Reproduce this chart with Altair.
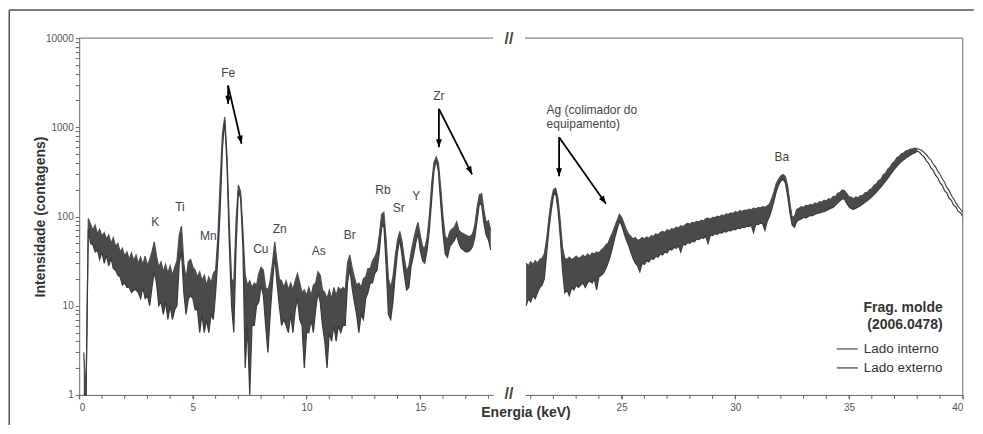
import altair as alt
import numpy as np
import pandas as pd

# ---------------- data ----------------
series_names = ["Lado interno", "Lado externo"]

# left segment: 0.2 ... 18.1 keV, step 0.1 keV
left_interno = [
    3, 1, 95, 82, 70, 80, 64, 72, 60, 66,
    56, 62, 50, 58, 46, 50, 40, 44, 36, 40,
    33, 39, 32, 37, 30, 35, 29, 36, 28, 33,
    40, 52, 36, 27, 31, 24, 29, 23, 28, 22,
    27, 32, 62, 78, 30, 20, 31, 33, 27, 25,
    21, 24, 19, 22, 17, 21, 18, 23, 25, 60,
    250, 850, 1300, 480, 85, 20, 18, 90, 225, 190,
    70, 22, 17, 19, 16, 18, 17, 23, 27, 25,
    16, 15, 19, 30, 52, 31, 20, 19, 16, 19,
    15, 18, 15, 19, 23, 18, 14, 15, 13, 16,
    13, 17, 18, 24, 22, 15, 14, 12, 15, 12,
    16, 13, 16, 15, 16, 15, 30, 37, 27, 21,
    17, 18, 16, 20, 21, 26, 26, 32, 35, 41,
    62, 105, 112, 55, 20, 16, 21, 36, 55, 68,
    52, 34, 24, 28, 40, 54, 70, 86, 62, 46,
    44, 58, 100, 230, 400, 465, 400, 210, 100, 60,
    55, 68, 72, 76, 87, 70, 66, 64, 62, 60,
    60, 64, 80, 125, 175, 180, 118, 85, 90, 70,
]
left_externo = [
    1, 1, 72, 50, 48, 40, 42, 33, 40, 30,
    37, 28, 34, 26, 25, 22, 21, 17, 18, 16,
    16, 14, 15, 15, 14, 12, 16, 12, 13, 10,
    16, 24, 18, 10, 11, 8, 11, 7, 10, 7,
    9, 10, 30, 40, 14, 8, 12, 13, 12, 9,
    9, 5, 8, 5, 7, 5, 8, 7, 14, 35,
    120, 580, 1200, 380, 50, 10, 5, 45, 195, 160,
    45, 2, 6, 1, 6, 6, 10, 11, 17, 13,
    6, 3, 8, 18, 36, 18, 10, 6, 7, 6,
    5, 8, 5, 9, 12, 7, 6, 2, 5, 5,
    7, 5, 9, 14, 11, 6, 4, 2, 5, 4,
    6, 4, 6, 5, 6, 6, 18, 26, 16, 11,
    8, 5, 8, 7, 12, 14, 18, 18, 23, 25,
    40, 75, 80, 28, 8, 7, 11, 22, 40, 55,
    36, 22, 15, 16, 28, 36, 50, 65, 42, 32,
    30, 42, 70, 150, 320, 430, 320, 140, 65, 38,
    35, 46, 50, 54, 62, 50, 44, 42, 40, 40,
    42, 46, 58, 90, 140, 135, 85, 62, 55, 42,
]
# right segment: 20.8 ... 40.0 keV, step 0.1 keV
right_interno = [
    30, 28, 31, 29, 32, 30, 33, 34, 38, 55,
    95, 150, 200, 208, 160, 90, 45, 34, 33, 35,
    33, 34, 36, 34, 35, 37, 35, 38, 36, 39,
    38, 40, 39, 42, 44, 48, 50, 58, 66, 78,
    90, 106, 98, 84, 72, 64, 60, 56, 58, 54,
    55, 58, 56, 59, 57, 61, 60, 64, 62, 66,
    68, 66, 71, 69, 73, 72, 76, 74, 79, 77,
    81, 84, 82, 86, 85, 88, 87, 91, 89, 94,
    96, 93, 98, 97, 101, 99, 104, 102, 107, 106,
    110, 108, 113, 111, 116, 114, 118, 117, 121, 119,
    124, 122, 126, 125, 129, 127, 131, 138, 158, 190,
    235, 262, 285, 295, 280, 220, 140, 98, 100, 120,
    124, 129, 126, 133, 132, 137, 134, 142, 139, 147,
    144, 152, 149, 158, 156, 168, 166, 182, 186, 198,
    194, 180, 166, 164, 158, 166, 162, 172, 172, 184,
    186, 200, 206, 224, 232, 254, 262, 292, 306, 340,
    358, 395, 415, 455, 470, 505, 515, 545, 552, 570,
    575, 584, 575, 566, 548, 522, 492, 458, 428, 388,
    362, 322, 298, 265, 242, 212, 196, 172, 158, 142,
    130, 120, 112,
]
right_externo = [
    10, 12, 11, 13, 12, 14, 16, 17, 20, 38,
    70, 115, 170, 185, 120, 60, 25, 14, 15, 13,
    16, 15, 17, 16, 17, 18, 16, 18, 19, 18,
    20, 15, 21, 22, 23, 26, 30, 36, 45, 58,
    72, 88, 80, 66, 55, 48, 40, 34, 30, 28,
    24, 30, 29, 32, 31, 34, 33, 36, 35, 38,
    37, 40, 39, 43, 42, 45, 44, 47, 40, 49,
    48, 51, 50, 53, 52, 56, 55, 58, 57, 60,
    50, 62, 61, 64, 63, 66, 65, 68, 67, 70,
    69, 72, 71, 74, 73, 76, 75, 78, 77, 80,
    66, 82, 81, 84, 83, 70, 88, 100, 120, 150,
    190, 225, 250, 262, 238, 170, 110, 80, 76, 88,
    92, 94, 98, 96, 100, 103, 102, 106, 108, 110,
    112, 113, 117, 120, 124, 126, 134, 142, 150, 158,
    156, 140, 128, 122, 120, 124, 128, 132, 138, 144,
    150, 158, 166, 176, 188, 200, 214, 230, 248, 268,
    290, 315, 340, 365, 390, 412, 432, 452, 470, 488,
    505, 520, 540, 525, 490, 465, 420, 395, 350, 330,
    290, 272, 238, 224, 195, 183, 160, 152, 133, 128,
    114, 110, 100,
]
left_start = 0.2
right_start = 20.8
step_kev = 0.1
split_from = 38.0   # beyond this energy the two spectra are drawn as separate curves

element_text = ["K", "Ti", "Mn", "Fe", "Cu", "Zn", "As", "Br", "Rb", "Sr", "Y", "Zr"]
element_E = [3.34, 4.43, 5.68, 6.55, 7.99, 8.82, 10.54, 11.90, 13.36, 14.05, 14.82, 15.82]
element_I = [87, 128, 60, 4030, 43, 72, 41, 62, 200, 126, 168, 2268]

ba_text = ["Ba"]
ba_E = [32.04]
ba_I = [463]

ag_text = ["Ag (colimador do", "equipamento)"]
ag_E = [21.70, 21.70]
ag_I = [1570, 1094]

# arrows (start -> tip)
left_arrow_E0 = [6.55, 6.55, 15.82, 15.82]
left_arrow_I0 = [2935, 2935, 1610, 1610]
left_arrow_E1 = [6.55, 7.14, 15.82, 17.28]
left_arrow_I1 = [1832, 654, 599, 297]
right_arrow_E0 = [22.25, 22.25]
right_arrow_I0 = [775, 775]
right_arrow_E1 = [22.25, 24.31]
right_arrow_I1 = [282, 139]

x_left_labels = [0, 5, 10, 15]
x_right_labels = [25, 30, 35, 40]
x_left_minor = list(range(0, 19))
x_right_minor = list(range(21, 41))
y_ticks = [m * 10 ** k for k in range(4) for m in range(1, 10)] + [10000]

# ---------------- tables ----------------
def wide(upper, lower, start):
    e = np.round(start + step_kev * np.arange(len(upper)), 3)
    return pd.DataFrame({"E": e, series_names[0]: upper, series_names[1]: lower})

left_w = wide(left_interno, left_externo, left_start)
right_w = wide(right_interno, right_externo, right_start)

elem_df = pd.DataFrame({"E": element_E, "I": element_I, "t": element_text})
ba_df = pd.DataFrame({"E": ba_E, "I": ba_I, "t": ba_text})
ag_df = pd.DataFrame({"E": ag_E, "I": ag_I, "t": ag_text})

left_head_angle = [0, 347, 0, 333]   # arrowhead rotation (style)
right_head_angle = [0, 325]
larr = pd.DataFrame({"E0": left_arrow_E0, "I0": left_arrow_I0, "E1": left_arrow_E1,
                     "I1": left_arrow_I1, "ang": left_head_angle})
rarr = pd.DataFrame({"E0": right_arrow_E0, "I0": right_arrow_I0, "E1": right_arrow_E1,
                     "I1": right_arrow_I1, "ang": right_head_angle})
lminor = pd.DataFrame({"E": x_left_minor})
rminor = pd.DataFrame({"E": x_right_minor})
one_row = pd.DataFrame({"k": [0]})

# ---------------- styling ----------------
W_L, W_R, H = 414, 438, 357
FONT = "Liberation Sans"
AX = "#666666"
BAND = "#4a4a4a"
HEAD = "M0,0L-0.6,-1.6L0.6,-1.6Z"

y_scale = alt.Scale(type="log", domain=[1, 10000], nice=False)
color = alt.Color(
    "serie:N",
    scale=alt.Scale(domain=series_names, range=["#4d4d4d", "#3a3a3a"]),
    legend=alt.Legend(
        title=["Frag. molde", "(2006.0478)"], orient="none", legendX=757, legendY=263,
        symbolType="stroke", symbolSize=441, symbolStrokeWidth=1.2,
        symbolStrokeColor="#808080",
        labelFontSize=13.5, labelColor="#333", titleFontSize=14, titleColor="#333",
        titleFontWeight="bold", titleAnchor="end", titleAlign="right",
        titleLineHeight=17.5, titlePadding=5, labelOffset=5, rowPadding=1,
    ),
)

def x_axis(vals):
    return alt.Axis(values=vals, title=None, tickSize=4, labelFontSize=10,
                    labelPadding=4, grid=False, labelOverlap=False)

y_axis_left = alt.Axis(
    values=y_ticks, format="d",
    labelExpr="indexof([1,10,100,1000,10000], datum.value) >= 0 ? datum.label : ''",
    title="Intensidade (contagens)", titleX=-39, titleY=H / 2, titleBaseline="middle",
    titleFontSize=14, titleFontWeight="bold", titleColor="#333",
    labelOverlap=False, tickSize=4, labelFontSize=10, labelPadding=2, grid=False,
)


def panel(wdf, dom, axis_x, axis_y, minor_df, band_filter=None):
    xs = alt.Scale(domain=dom, nice=False, zero=False)
    band_src = alt.Chart(wdf)
    if band_filter is not None:
        band_src = band_src.transform_filter(band_filter)
    band = band_src.mark_area(color=BAND, opacity=1, interpolate="linear").encode(
        x=alt.X("E:Q", scale=xs, axis=axis_x),
        y=alt.Y(f"{series_names[1]}:Q", scale=y_scale, axis=axis_y),
        y2=f"{series_names[0]}:Q",
    )
    lines = alt.Chart(wdf).transform_fold(series_names, as_=["serie", "I"]).mark_line(
        strokeWidth=1.2).encode(
        x=alt.X("E:Q", scale=xs, axis=axis_x),
        y=alt.Y("I:Q", scale=y_scale, axis=axis_y),
        color=color,
    )
    minor = alt.Chart(minor_df).mark_rule(color=AX, strokeWidth=1).encode(
        x=alt.X("E:Q", scale=xs, axis=axis_x), y=alt.value(H), y2=alt.value(H + 4))
    return xs, [band, lines, minor]


# ---------------- left panel ----------------
xs_l, layers_l = panel(left_w, [0, 18.2], x_axis(x_left_labels), y_axis_left, lminor)
labels_l = alt.Chart(elem_df).mark_text(fontSize=12, color="#444", font=FONT).encode(
    x=alt.X("E:Q", scale=xs_l), y=alt.Y("I:Q", scale=y_scale), text="t:N")
shafts_l = alt.Chart(larr).mark_rule(color="black", strokeWidth=1.8).encode(
    x=alt.X("E0:Q", scale=xs_l), y=alt.Y("I0:Q", scale=y_scale), x2="E1:Q", y2="I1:Q")
heads_l = alt.Chart(larr).mark_point(shape=HEAD, filled=True, size=100, color="black",
                                     opacity=1).encode(
    x=alt.X("E1:Q", scale=xs_l), y=alt.Y("I1:Q", scale=y_scale),
    angle=alt.Angle("ang:Q", scale=None))
deco = alt.Chart(one_row)
top_l = deco.mark_rule(color=AX, strokeWidth=1).encode(
    x=alt.value(0), x2=alt.value(W_L), y=alt.value(0))
frame_top = deco.mark_rule(color="#555", strokeWidth=1.5).encode(
    x=alt.value(-70), x2=alt.value(895), y=alt.value(-28))
frame_left = deco.mark_rule(color="#555", strokeWidth=1.5).encode(
    x=alt.value(-70), y=alt.value(-28), y2=alt.value(387))
brk_top = deco.mark_text(fontSize=16, fontWeight="bold", color="#444", font=FONT).encode(
    x=alt.value(430), y=alt.value(1), text=alt.value("//"))
brk_bot = deco.mark_text(fontSize=16, fontWeight="bold", color="#444", font=FONT).encode(
    x=alt.value(430), y=alt.value(H - 1), text=alt.value("//"))

left = alt.layer(*layers_l, labels_l, shafts_l, heads_l, top_l, frame_top, frame_left,
                 brk_top, brk_bot).properties(width=W_L, height=H)

# ---------------- right panel ----------------
xs_r, layers_r = panel(right_w, [20.75, 40], x_axis(x_right_labels), None, rminor,
                       band_filter=alt.datum.E <= split_from)
ba_l = alt.Chart(ba_df).mark_text(fontSize=12, color="#444", font=FONT).encode(
    x=alt.X("E:Q", scale=xs_r), y=alt.Y("I:Q", scale=y_scale), text="t:N")
ag_l = alt.Chart(ag_df).mark_text(fontSize=12, color="#444", font=FONT, align="left").encode(
    x=alt.X("E:Q", scale=xs_r), y=alt.Y("I:Q", scale=y_scale), text="t:N")
shafts_r = alt.Chart(rarr).mark_rule(color="black", strokeWidth=1.8).encode(
    x=alt.X("E0:Q", scale=xs_r), y=alt.Y("I0:Q", scale=y_scale), x2="E1:Q", y2="I1:Q")
heads_r = alt.Chart(rarr).mark_point(shape=HEAD, filled=True, size=100, color="black",
                                     opacity=1).encode(
    x=alt.X("E1:Q", scale=xs_r), y=alt.Y("I1:Q", scale=y_scale),
    angle=alt.Angle("ang:Q", scale=None))
deco_r = alt.Chart(one_row)
top_r = deco_r.mark_rule(color=AX, strokeWidth=1).encode(
    x=alt.value(0), x2=alt.value(W_R), y=alt.value(0))
side_r = deco_r.mark_rule(color=AX, strokeWidth=1).encode(
    x=alt.value(W_R), y=alt.value(0), y2=alt.value(H))
xtitle = deco_r.mark_text(fontSize=14, fontWeight="bold", color="#333", font=FONT).encode(
    x=alt.value(1), y=alt.value(H + 18), text=alt.value("Energia (keV)"))

right = alt.layer(*layers_r, ba_l, ag_l, shafts_r, heads_r, top_r, side_r, xtitle).properties(
    width=W_R, height=H)

pad = {"left": 0.25, "top": 1, "right": 0.25, "bottom": 0.25}
chart = alt.hconcat(left, right, spacing=32, bounds="flush").properties(
    padding=pad
).configure(font=FONT, padding=pad).configure_view(stroke=None).configure_axis(
    domainColor=AX, tickColor=AX, labelColor="#555", labelFont=FONT, titleFont=FONT
).configure_legend(labelFont=FONT, titleFont=FONT)

chart.save("out.html", embed_options={"renderer": "svg", "actions": False})
